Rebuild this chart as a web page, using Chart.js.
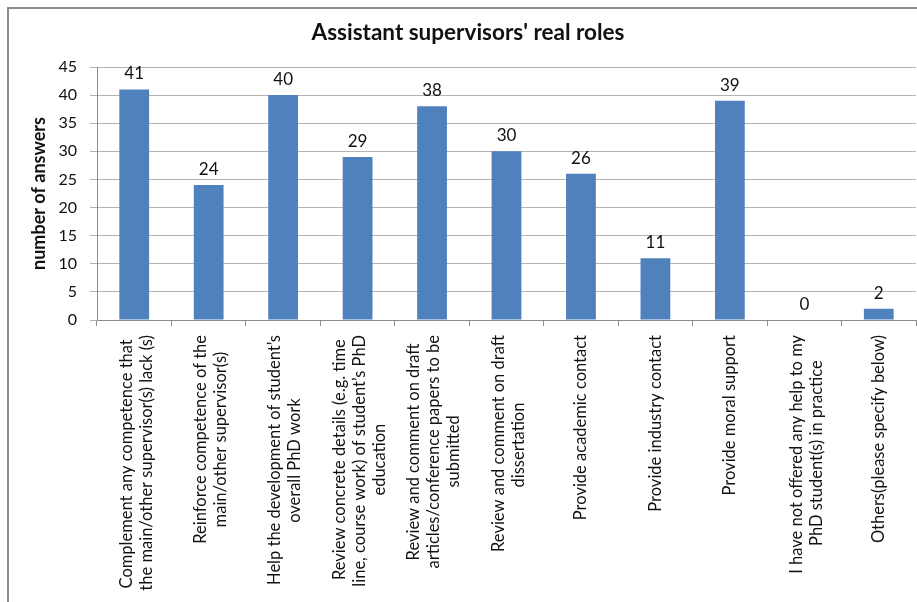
<!DOCTYPE html>
<html>
<head>
<meta charset="utf-8">
<script src="https://cdn.jsdelivr.net/npm/chart.js@4.4.4/dist/chart.umd.min.js"></script>
<style>
  html, body { margin: 0; padding: 0; background: #fff; }
  #wrap { position: relative; width: 917px; height: 602px; overflow: hidden; }
  #frame { position: absolute; left: 7px; top: 7px; width: 930px; height: 620px;
           border: 2px solid #8c8c8c; pointer-events: none; }
</style>
</head>
<body>
<div id="wrap">
  <canvas id="chart" width="917" height="602"></canvas>
  <div id="frame"></div>
</div>
<script>
// ── Data ───────────────────────────────────────────────────────────────────
const TITLE   = "Assistant supervisors' real roles";
const Y_TITLE = 'number of answers';

const roles = [
  ['Complement any competence that', 'the main/other supervisor(s) lack (s)'],
  ['Reinforce competence of the', 'main/other supervisor(s)'],
  ['Help the development of student’s', 'overall PhD work'],
  ['Review concrete details (e.g. time', 'line, course work) of student’s PhD', 'education'],
  ['Review and comment on draft', 'articles/conference papers to be', 'submitted'],
  ['Review and comment on draft', 'dissertation'],
  'Provide academic contact',
  'Provide industry contact',
  'Provide moral support',
  ['I have not offered any help to my', 'PhD student(s) in practice'],
  'Others(please specify below)',
];
const answers = [41, 24, 40, 29, 38, 30, 26, 11, 39, 0, 2];

const Y_MIN = 0, Y_MAX = 45, Y_STEP = 5;

// ── Style ──────────────────────────────────────────────────────────────────
const FONT  = 'Lato, "Noto Sans", sans-serif';
const BLUE  = '#4F81BD';
const GRID  = '#b4b4b4';
const AXIS  = '#8c8c8c';
const INK   = '#111';
const LABEL_SIZE = 16.5;
const LABEL_LH   = 20;   // px between rotated label lines

// value labels above each bar
const valueLabels = {
  id: 'valueLabels',
  afterDatasetsDraw(chart) {
    const { ctx } = chart;
    const meta = chart.getDatasetMeta(0);
    ctx.save();
    ctx.font = `17px ${FONT}`;
    ctx.fillStyle = INK;
    ctx.textAlign = 'center';
    ctx.textBaseline = 'alphabetic';
    meta.data.forEach((bar, i) => {
      ctx.fillText(String(answers[i]), bar.x, bar.y - 10);
    });
    ctx.restore();
  },
};

// Rotated labels are end-aligned at the axis; pad shorter lines with
// trailing spaces so every line sits centred in its block, like Excel.
const measure = document.createElement('canvas').getContext('2d');
function centreLines(label) {
  if (!Array.isArray(label)) return label;
  measure.font = `${LABEL_SIZE}px ${FONT}`;
  const w = label.map(s => measure.measureText(s).width);
  const maxW = Math.max(...w);
  const sp = measure.measureText(' ').width;
  return label.map((s, i) => s + ' '.repeat(Math.round((maxW - w[i]) / 2 / sp)));
}

// Chart.js stacks rotated lines to the right of the tick, so labels with
// more lines get their own overlay axis shifted left to stay centred.
// Overlays take no layout room; after layout their box is stretched down
// so the label clip area covers the text.
const lineCount = l => Array.isArray(l) ? l.length : 1;
const OVERLAYS = ['x2', 'x3'];

const stretchOverlays = {
  id: 'stretchOverlays',
  afterLayout(chart) {
    OVERLAYS.forEach(id => { chart.scales[id].bottom = chart.height; });
  },
};

const labelTicks = n => ({
  autoSkip: false,
  minRotation: 90,
  maxRotation: 90,
  padding: 9,
  labelOffset: -(n - 1) * LABEL_LH / 2 + (n > 1 ? 2 : 0),
  color: INK,
  font: { family: FONT, size: LABEL_SIZE, lineHeight: LABEL_LH / LABEL_SIZE },
  callback: (v, i) => lineCount(roles[i]) === n ? centreLines(roles[i]) : '',
});

const overlayAxis = n => ({
  type: 'category',
  position: 'bottom',
  weight: 0,
  grid: { display: false, tickLength: 6 },
  border: { display: false },
  ticks: labelTicks(n),
  afterFit: s => { s.height = 0; },
});

new Chart(document.getElementById('chart').getContext('2d'), {
  type: 'bar',
  data: {
    labels: roles,
    datasets: [{
      label: Y_TITLE,
      data: answers,
      backgroundColor: BLUE,
      barPercentage: 0.4,
      categoryPercentage: 1,
    }],
  },
  options: {
    responsive: false,
    animation: false,
    events: [],
    layout: { padding: { left: 20, right: 1, top: 0, bottom: 0 } },
    plugins: {
      legend: { display: false },
      tooltip: { enabled: false },
      title: {
        display: true,
        text: TITLE,
        color: INK,
        font: { family: FONT, size: 22.5, weight: 'bold' },
        padding: { top: 19, bottom: 21 },
      },
    },
    scales: {
      x: {
        weight: 1,
        grid: { display: true, drawOnChartArea: false, color: AXIS, tickLength: 6, offset: true },
        border: { color: AXIS },
        ticks: labelTicks(1),
        afterFit: s => { s.height = 282; },
      },
      x2: overlayAxis(2),
      x3: overlayAxis(3),
      y: {
        min: Y_MIN,
        max: Y_MAX,
        ticks: {
          stepSize: Y_STEP,
          padding: 13,
          color: INK,
          font: { family: FONT, size: 16 },
        },
        grid: { color: GRID, tickLength: 7 },
        border: { color: AXIS },
        title: {
          display: true,
          text: Y_TITLE,
          color: INK,
          font: { family: FONT, size: 18, weight: 'bold' },
          padding: { top: 8, bottom: 0 },
        },
        afterFit: s => { s.width = 77; },
      },
    },
  },
  plugins: [valueLabels, stretchOverlays],
});
</script>
</body>
</html>
